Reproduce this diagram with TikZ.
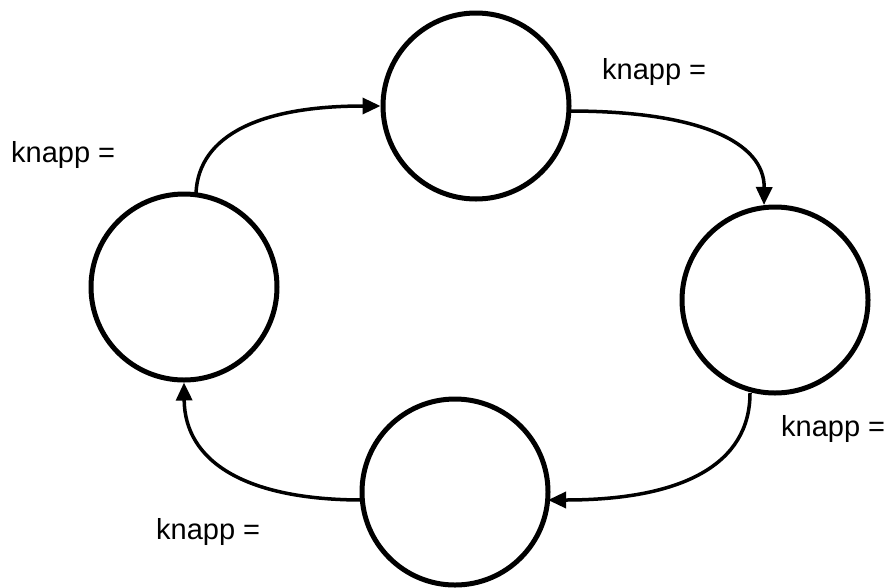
\documentclass[tikz,border=0pt]{standalone}
\usepackage{fontspec}
\setmainfont{Liberation Sans}
\usetikzlibrary{arrows.meta}
\begin{document}
\begin{tikzpicture}[x=1pt,y=-1pt,
  state/.style={circle,draw=black,line width=5pt,minimum size=186pt,inner sep=0pt},
  flow/.style={line width=3.5pt,-{Triangle[length=18pt,width=16pt]}},
  lbl/.style={anchor=base west,inner sep=0pt,font=\fontsize{29}{35}\selectfont}]
\useasboundingbox (0,0) rectangle (890,587);
% four states arranged in a ring
\node[state] (top) at (476,106) {};
\node[state] (right) at (775,300) {};
\node[state] (bottom) at (455,492) {};
\node[state] (left) at (184,287) {};
% transitions between the states
\coordinate (lt) at (196,193);
\coordinate (tr) at (569,111);
\coordinate (rb) at (750,393);
\coordinate (bl) at (363,500);
\coordinate (rt) at (764,205);
\coordinate (br) at (548,500);
\draw[flow] (lt) .. controls (198.7,135) and (260.7,106) .. (top.west);
\draw[flow] (tr) .. controls (699.7,111) and (764.7,142.3) .. (rt);
\draw[flow] (rb) .. controls (750,464.3) and (682.7,500) .. (br);
\draw[flow] (bl) .. controls (244.3,500) and (184.7,461) .. (left.south);
% labels
\node[lbl] (l1) at (11,162) {knapp =};
\node[lbl] (l2) at (602,79) {knapp =};
\node[lbl] (l3) at (781,436) {knapp =};
\node[lbl] (l4) at (156,539) {knapp =};
\end{tikzpicture}
\end{document}
